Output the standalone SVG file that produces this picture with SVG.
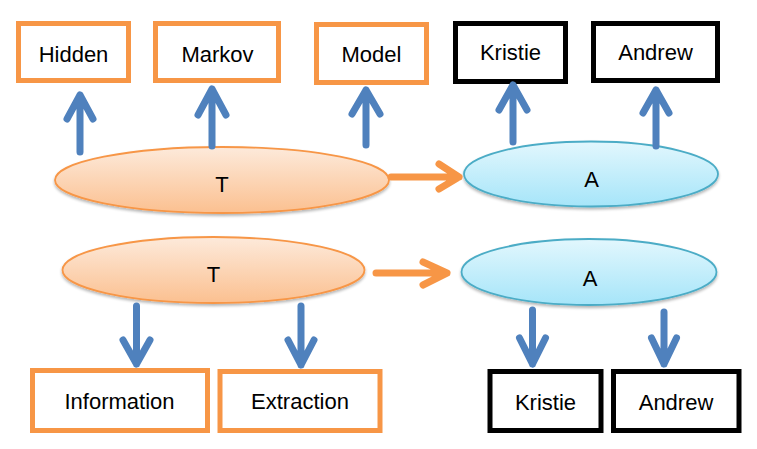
<svg xmlns="http://www.w3.org/2000/svg" width="757" height="449" viewBox="0 0 757 449">
<defs>
<linearGradient id="gT" x1="0" y1="0" x2="0" y2="1">
<stop offset="0" stop-color="#fdeadb"/>
<stop offset="1" stop-color="#fbc090"/>
</linearGradient>
<linearGradient id="gA" x1="0" y1="0" x2="0" y2="1">
<stop offset="0" stop-color="#e2f7fd"/>
<stop offset="1" stop-color="#a6e5f9"/>
</linearGradient>
<filter id="sh" x="-10%" y="-20%" width="120%" height="150%">
<feGaussianBlur in="SourceAlpha" stdDeviation="1.5"/>
<feOffset dy="2" result="b"/>
<feComponentTransfer><feFuncA type="linear" slope="0.3"/></feComponentTransfer>
<feMerge><feMergeNode/><feMergeNode in="SourceGraphic"/></feMerge>
</filter>
<style>
text{font-family:"Liberation Sans",Arial,sans-serif;font-size:22px;fill:#000;text-anchor:middle}
.ob{fill:#fff;stroke:#f79646;stroke-width:5}
.bb{fill:#fff;stroke:#000;stroke-width:5}
.eT{fill:url(#gT);stroke:#f79646;stroke-width:1.8}
.eA{fill:url(#gA);stroke:#4bacc6;stroke-width:1.8}
.blue{fill:none;stroke:#4f81bd;stroke-width:7;stroke-linecap:round;stroke-linejoin:round}
.org{fill:none;stroke:#f79646;stroke-width:7;stroke-linecap:round;stroke-linejoin:round}
</style>
</defs>
<rect width="757" height="449" fill="#fff"/>

<g id="hidden"><rect class="ob" x="18.5" y="23.5" width="110" height="57"/><text x="73.5" y="61.5">Hidden</text></g>
<g id="markov"><rect class="ob" x="155.5" y="23.5" width="123" height="57"/><text x="217.5" y="61.5">Markov</text></g>
<g id="model"><rect class="ob" x="316.5" y="24.5" width="110" height="58"/><text x="371.5" y="61.5">Model</text></g>
<g id="kristie1"><rect class="bb" x="455.5" y="23.5" width="110" height="58"/><text x="510.5" y="60">Kristie</text></g>
<g id="andrew1"><rect class="bb" x="593.5" y="23.5" width="124" height="57"/><text x="655.5" y="60">Andrew</text></g>

<g id="t1"><ellipse class="eT" cx="222" cy="180" rx="167" ry="33" filter="url(#sh)"/><text x="222" y="192">T</text></g>
<g id="a1"><ellipse class="eA" cx="591" cy="174" rx="127" ry="32.5" filter="url(#sh)"/><text x="591.5" y="187">A</text></g>
<g id="t2"><ellipse class="eT" cx="213.5" cy="270" rx="151" ry="33" filter="url(#sh)"/><text x="213.5" y="281.5">T</text></g>
<g id="a2"><ellipse class="eA" cx="589" cy="272" rx="127.5" ry="33" filter="url(#sh)"/><text x="590" y="285.5">A</text></g>

<g id="information"><rect class="ob" x="32.5" y="370.5" width="175" height="60"/><text x="119.5" y="409">Information</text></g>
<g id="extraction"><rect class="ob" x="220" y="371.5" width="160" height="59"/><text x="300" y="409">Extraction</text></g>
<g id="kristie2"><rect class="bb" x="490" y="371.5" width="111" height="59"/><text x="545.5" y="410">Kristie</text></g>
<g id="andrew2"><rect class="bb" x="613.5" y="371.5" width="125.5" height="59"/><text x="676" y="410">Andrew</text></g>

<g id="connectors">
<path class="blue" d="M80 152V95M67 119L80 95L93 119"/>
<path class="blue" d="M212 146V89M198 115L212 89L226 115"/>
<path class="blue" d="M366 145V90M352 114L366 90L380 114"/>
<path class="blue" d="M513 142V85M499 110L513 85L527 110"/>
<path class="blue" d="M656 146V90M643 113L656 90L669 113"/>
<path class="org" d="M391 177H459M439 164L459 177L439 189"/>
<path class="org" d="M376 273H447M423 262L447 273L423 285"/>
<path class="blue" d="M136.5 306V364M123 340L136.5 364L150 340"/>
<path class="blue" d="M301 306V365M288 340L301 365L314 340"/>
<path class="blue" d="M532.5 310V364M519.5 338L532.5 364L545.5 338"/>
<path class="blue" d="M664 312V364M651.5 338L664 364L676.5 338"/>
</g>
</svg>
